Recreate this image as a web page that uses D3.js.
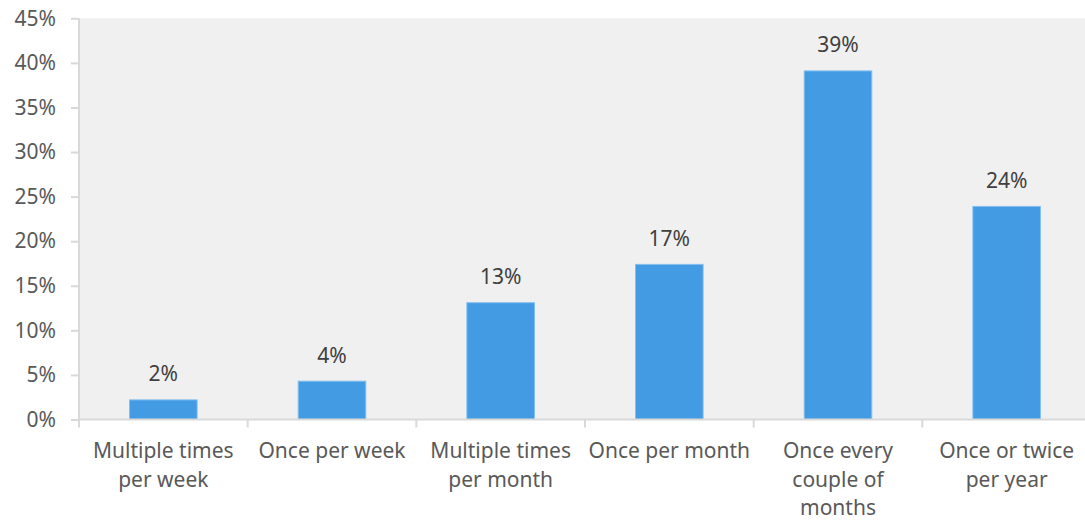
<!DOCTYPE html>
<html>
<head>
<meta charset="utf-8">
<script src="https://cdn.jsdelivr.net/npm/d3@7"></script>
<style>
  html, body { margin: 0; padding: 0; background: #fff; }
  svg { display: block; font-family: "Noto Sans", "Open Sans", sans-serif; }
</style>
</head>
<body>
<svg id="chart" width="1085" height="522"></svg>
<script>
// Survey answer frequencies (share of respondents)
const categories = [
  "Multiple times\nper week",
  "Once per week",
  "Multiple times\nper month",
  "Once per month",
  "Once every\ncouple of\nmonths",
  "Once or twice\nper year"
];
const shares = [2.2, 4.3, 13.1, 17.4, 39.1, 23.9];
const yTicks = [0, 5, 10, 15, 20, 25, 30, 35, 40, 45];

const svg = d3.select("#chart");
const plotLeft = 79, plotRight = 1091, plotTop = 18.3, plotBottom = 419.5;
const barWidth = 67.6;
const fontSize = 21;

const xStep = d3.scaleBand().domain(categories).range([plotLeft, plotRight]);
const y = d3.scaleLinear().domain([0, 45]).range([plotBottom, plotTop]);

// plot area background
svg.append("rect")
  .attr("x", plotLeft).attr("y", plotTop)
  .attr("width", plotRight - plotLeft).attr("height", plotBottom - plotTop)
  .attr("fill", "#f0f0f0");

// bars
svg.append("g").selectAll("rect")
  .data(shares)
  .join("rect")
  .attr("x", (d, i) => xStep(categories[i]) + (xStep.step() - barWidth) / 2)
  .attr("width", barWidth)
  .attr("y", d => y(d))
  .attr("height", d => y(0) - y(d))
  .attr("fill", "#429be3")
  .attr("stroke", "#86bfee")
  .attr("stroke-width", 1);

// value labels
svg.append("g").selectAll("text")
  .data(shares)
  .join("text")
  .attr("x", (d, i) => xStep(categories[i]) + xStep.step() / 2)
  .attr("y", d => y(d) - 18.5)
  .attr("text-anchor", "middle")
  .attr("font-size", fontSize)
  .attr("fill", "#404040")
  .text(d => Math.round(d) + "%");

// y axis
const yAxis = svg.append("g")
  .attr("transform", `translate(${plotLeft},0)`)
  .call(d3.axisLeft(y).tickValues(yTicks).tickFormat(d => d + "%").tickSize(8).tickPadding(15));
yAxis.select(".domain").attr("stroke", "#d9d9d9").attr("stroke-width", 2)
  .attr("d", `M0,${plotTop}V${plotBottom}`);
yAxis.selectAll(".tick line").attr("stroke", "#d9d9d9").attr("stroke-width", 2);
yAxis.selectAll(".tick text").attr("font-size", fontSize).attr("fill", "#595959")
  .attr("font-family", "'Noto Sans', 'Open Sans', sans-serif");

// x axis with boundary ticks between categories
const xAxis = svg.append("g").attr("transform", `translate(0,${plotBottom})`);
xAxis.append("line")
  .attr("x1", plotLeft).attr("x2", plotRight)
  .attr("stroke", "#d9d9d9").attr("stroke-width", 2);
xAxis.selectAll("line.tick")
  .data(categories.map(c => xStep(c)).concat([plotRight]))
  .join("line")
  .attr("class", "tick")
  .attr("x1", d => d).attr("x2", d => d)
  .attr("y1", 0).attr("y2", 8)
  .attr("stroke", "#d9d9d9").attr("stroke-width", 2);

// category labels, one line per tspan
const catText = xAxis.selectAll("text.cat")
  .data(categories)
  .join("text")
  .attr("class", "cat")
  .attr("text-anchor", "middle")
  .attr("font-size", fontSize)
  .attr("fill", "#595959");
catText.each(function (c) {
  const cx = xStep(c) + xStep.step() / 2;
  d3.select(this).selectAll("tspan")
    .data(c.split("\n"))
    .join("tspan")
    .attr("x", cx)
    .attr("y", (d, i) => 38.5 + i * 28.5)
    .text(d => d);
});
</script>
</body>
</html>
